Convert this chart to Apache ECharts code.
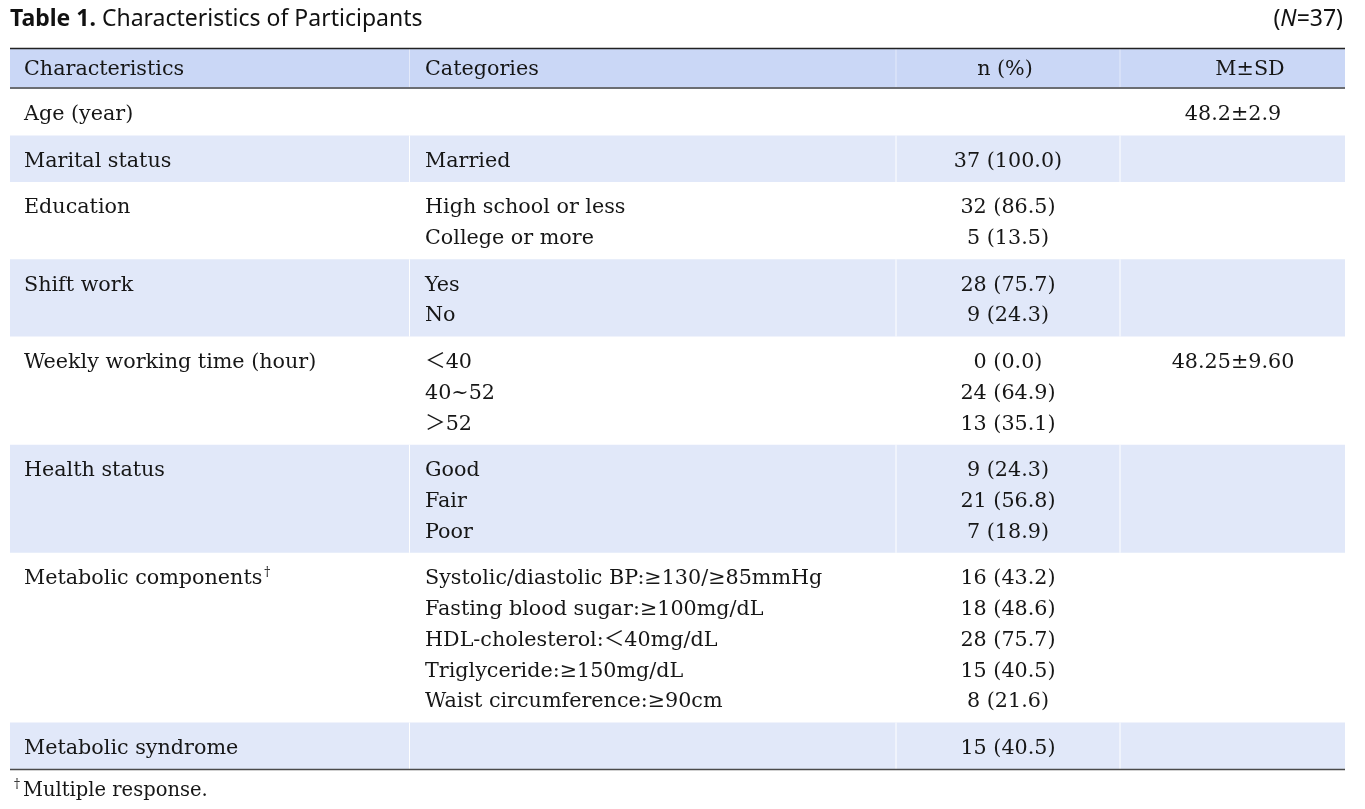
<!DOCTYPE html>
<html><head><meta charset="utf-8">
<script src="https://cdn.jsdelivr.net/npm/echarts@6/dist/echarts.min.js"></script>
<style>html,body{margin:0;padding:0;background:#fff}#c{width:1365px;height:809px}</style>
</head><body><div id="c"></div>
<script>
// ---- data ----
const titleBold = 'Table 1.';
const titleText = 'Characteristics of Participants';
const sampleSize = 37;
const headers = ['Characteristics', 'Categories', 'n (%)', 'M±SD'];
const characteristics = ['Age (year)', 'Marital status', 'Education', 'Shift work',
  'Weekly working time (hour)', 'Health status', 'Metabolic components', 'Metabolic syndrome'];
const categories = [
  [],
  ['Married'],
  ['High school or less', 'College or more'],
  ['Yes', 'No'],
  ['＜40', '40~52', '＞52'],
  ['Good', 'Fair', 'Poor'],
  ['Systolic/diastolic BP:≥130/≥85mmHg', 'Fasting blood sugar:≥100mg/dL', 'HDL-cholesterol:＜40mg/dL',
   'Triglyceride:≥150mg/dL', 'Waist circumference:≥90cm'],
  []
];
const nPercent = [
  [],
  ['37 (100.0)'],
  ['32 (86.5)', '5 (13.5)'],
  ['28 (75.7)', '9 (24.3)'],
  ['0 (0.0)', '24 (64.9)', '13 (35.1)'],
  ['9 (24.3)', '21 (56.8)', '7 (18.9)'],
  ['16 (43.2)', '18 (48.6)', '28 (75.7)', '15 (40.5)', '8 (21.6)'],
  ['15 (40.5)']
];
const meanSD = [['48.2±2.9'], [], [], [], ['48.25±9.60'], [], [], []];
const footnoteMark = '†';
const footnoteText = 'Multiple response.';
const markedRows = ['Metabolic components'];

// ---- layout ----
const X0 = 10, TOP = 48, W = 1335;
const colEdges = [399.5, 886, 1110];
const HEADER_H = 41, BASE_H = 46.5, LINE = 30.8, FIRST = 26;
const SERIF = '"DejaVu Serif", "Noto Sans CJK KR", serif';
const FS = 20.7;

const rows = [{ header: true, top: 0, bottom: HEADER_H }];
let yCur = HEADER_H;
characteristics.forEach((c, i) => {
  const n = Math.max(1, categories[i].length, nPercent[i].length, meanSD[i].length);
  const h = BASE_H + LINE * (n - 1);
  rows.push({ header: false, idx: i, top: yCur, bottom: yCur + h, shaded: i % 2 === 1 });
  yCur += h;
});
const totalH = yCur;

function txt(p, text, align, extra) {
  return {
    type: 'text', x: p[0], y: p[1],
    style: Object.assign({
      text: text, fontFamily: SERIF, fontSize: FS, fill: '#161616',
      align: align, verticalAlign: 'middle'
    }, extra || {})
  };
}

function renderItem(params, api) {
  const r = rows[params.dataIndex];
  const children = [];
  if (r.header) {
    const a = api.coord([0, 1]), b = api.coord([W, HEADER_H - 2]);
    children.push({ type: 'rect', shape: { x: a[0], y: a[1], width: b[0] - a[0], height: b[1] - a[1] }, style: { fill: '#cad7f6' } });
    colEdges.forEach(e => {
      const p = api.coord([e, 1]);
      children.push({ type: 'line', shape: { x1: p[0], y1: a[1], x2: p[0], y2: b[1] }, style: { stroke: '#e4eafa', lineWidth: 1 } });
    });
    const t = api.coord([0, 0]);
    children.push({ type: 'line', shape: { x1: a[0], y1: t[1] + 0.5, x2: b[0], y2: t[1] + 0.5 }, style: { stroke: '#222', lineWidth: 1.3 } });
    const bl = api.coord([0, HEADER_H - 1]);
    children.push({ type: 'line', shape: { x1: a[0], y1: bl[1], x2: b[0], y2: bl[1] }, style: { stroke: '#6b6d72', lineWidth: 2 } });
    const yc = 22;
    children.push(txt(api.coord([14, yc]), headers[0], 'left'));
    children.push(txt(api.coord([415, yc]), headers[1], 'left'));
    children.push(txt(api.coord([995, yc]), headers[2], 'center'));
    children.push(txt(api.coord([1240, yc]), headers[3], 'center'));
    return { type: 'group', children: children };
  }
  const i = r.idx;
  const a = api.coord([0, r.top]), b = api.coord([W, r.bottom]);
  if (r.shaded) {
    children.push({ type: 'rect', shape: { x: a[0], y: a[1], width: b[0] - a[0], height: b[1] - a[1] }, style: { fill: '#e1e8f9' } });
    colEdges.forEach(e => {
      const p = api.coord([e, r.top]);
      children.push({ type: 'line', shape: { x1: p[0], y1: a[1], x2: p[0], y2: b[1] }, style: { stroke: '#ffffff', lineWidth: 1 } });
    });
  }
  const marked = markedRows.indexOf(characteristics[i]) >= 0;
  children.push(txt(api.coord([14, r.top + FIRST]), marked ? characteristics[i] + '{sup|' + footnoteMark + '}' : characteristics[i], 'left',
    marked ? { rich: { sup: { fontSize: 12, fontFamily: SERIF, fill: '#161616', verticalAlign: 'top', lineHeight: 24, padding: [0, 0, 0, 2] } } } : null));
  categories[i].forEach((c, k) => children.push(txt(api.coord([415, r.top + FIRST + k * LINE]), c, 'left')));
  nPercent[i].forEach((c, k) => children.push(txt(api.coord([998, r.top + FIRST + k * LINE]), c, 'center')));
  meanSD[i].forEach((c, k) => children.push(txt(api.coord([1223, r.top + FIRST + k * LINE]), c, 'center')));
  if (i === characteristics.length - 1) {
    children.push({ type: 'line', shape: { x1: a[0], y1: b[1] + 0.5, x2: b[0], y2: b[1] + 0.5 }, style: { stroke: '#4a4a4a', lineWidth: 1.5 } });
  }
  return { type: 'group', children: children };
}

const chart = echarts.init(document.getElementById('c'), null, { renderer: 'canvas' });
chart.setOption({
  animation: false,
  backgroundColor: '#ffffff',
  grid: { left: X0, top: TOP, width: W, height: totalH },
  xAxis: { type: 'value', min: 0, max: W, show: false },
  yAxis: { type: 'value', min: 0, max: totalH, inverse: true, show: false },
  graphic: [
    { type: 'text', left: 10, top: 8, style: {
        text: '{b|' + titleBold + '} ' + titleText,
        fontFamily: '"Noto Sans", sans-serif', fontSize: 23, fill: '#111',
        rich: { b: { fontWeight: 'bold', fontFamily: '"Noto Sans", sans-serif', fontSize: 23, fill: '#111' } } } },
    { type: 'text', right: 22, top: 8, style: {
        text: '({i|N}=' + sampleSize + ')',
        fontFamily: '"Noto Sans", sans-serif', fontSize: 23, fill: '#111',
        rich: { i: { fontStyle: 'italic', fontFamily: '"Noto Sans", sans-serif', fontSize: 23, fill: '#111' } } } },
    { type: 'text', left: 14, top: 779, style: {
        text: '{sup|' + footnoteMark + '}' + footnoteText,
        fontFamily: SERIF, fontSize: 19.5, fill: '#161616', lineHeight: 24,
        rich: { sup: { fontSize: 12, fontFamily: SERIF, fill: '#161616', verticalAlign: 'top', lineHeight: 24, padding: [0, 3, 0, 0] } } } }
  ],
  series: [{
    type: 'custom',
    coordinateSystem: 'cartesian2d',
    renderItem: renderItem,
    encode: { x: 0, y: 1 },
    data: rows.map(r => [0, r.top]),
    clip: false,
    silent: true
  }]
});
</script>
</body></html>
